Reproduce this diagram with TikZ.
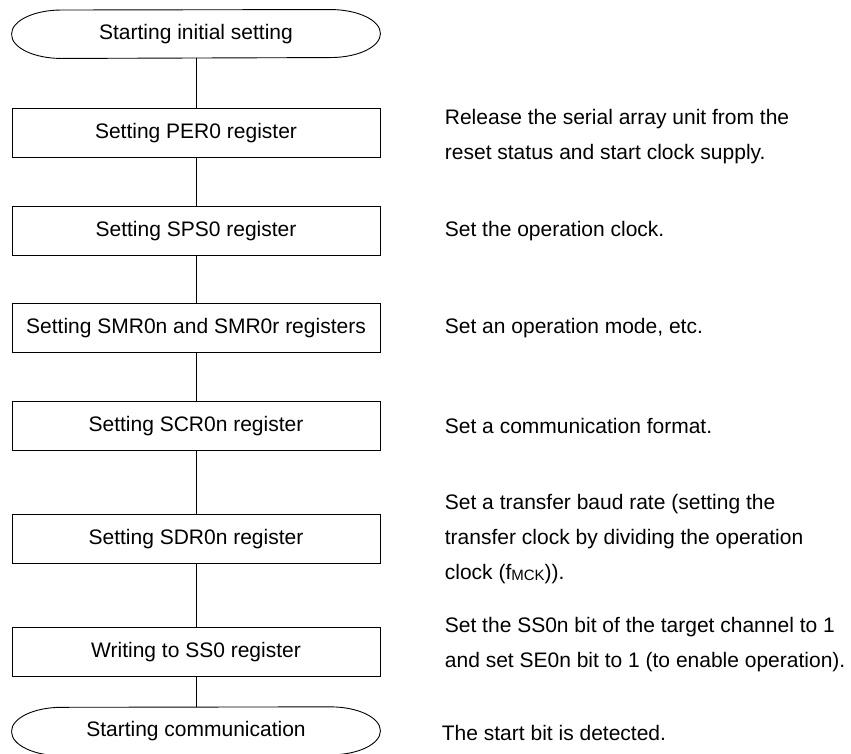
\documentclass[tikz,border=0pt]{standalone}
\usepackage{fontspec}
\setmainfont{Liberation Sans}
\usepackage{tikz}
\usetikzlibrary{positioning}
\newcommand{\termoutline}[1]{%
	\draw (#1.west) arc[start angle=180, end angle=90, x radius=50pt, y radius=24pt]
		-- ([xshift=-50pt]#1.north east) arc[start angle=90, end angle=-90, x radius=50pt, y radius=24pt]
		-- ([xshift=50pt]#1.south west) arc[start angle=270, end angle=180, x radius=50pt, y radius=24pt];
}
\tikzset{
	stepbox/.style={
		draw, rectangle, minimum width=368pt, minimum height=49pt,
		inner sep=0pt, text=black, font=\fontsize{21}{35}\selectfont
	},
	terminal/.style={
		rectangle, minimum width=368pt, minimum height=48pt,
		inner sep=0pt, text=black, font=\fontsize{21}{35}\selectfont
	},
	note/.style={
		align=left, inner sep=0pt, text=black,
		font=\fontsize{21}{35}\selectfont
	},
	flow_line/.style={line width=0.9pt}
}

\begin{document}
\begin{tikzpicture}[x=1pt,y=1pt,line width=0.9pt]
				\useasboundingbox (0,0) rectangle (851,-753);
				\node[terminal] (start) at (196,-34) {Starting initial setting};
				\node[stepbox] (per) [below=50pt of start] {Setting PER0 register};
				\node[stepbox] (sps) [below=48pt of per] {Setting SPS0 register};
				\node[stepbox] (smr) [below=47pt of sps] {Setting SMR0n and SMR0r registers};
				\node[stepbox] (scr) [below=48pt of smr] {Setting SCR0n register};
				\node[stepbox] (sdr) [below=63pt of scr] {Setting SDR0n register};
				\node[stepbox] (ss)  [below=63pt of sdr] {Writing to SS0 register};
				\node[terminal] (stop) [below=30pt of ss] {Starting communication};
				\termoutline{start}
				\termoutline{stop}
				% notes beside the steps
				\node[note] (per_note) [right=64pt of per, yshift=-3pt] {Release the serial array unit from the\\reset status and start clock supply.};
				\node[note] (sps_note) [right=64pt of sps] {Set the operation clock.};
				\node[note] (smr_note) [right=64pt of smr] {Set an operation mode, etc.};
				\node[note] (scr_note) [right=64pt of scr] {Set a communication format.};
				\node[note] (sdr_note) [right=64pt of sdr] {Set a transfer baud rate (setting the\\transfer clock by dividing the operation\\clock (f\raisebox{-1pt}{\fontsize{15}{15}\selectfont MCK})).};
				\node[note] (ss_note) [right=64pt of ss, yshift=7.5pt] {Set the SS0n bit of the target channel to 1\\and set SE0n bit to 1 (to enable operation).};
				\node[note] (stop_note) [right=61pt of stop, yshift=-2pt] {The start bit is detected.};
				\draw[flow_line] (start) -- (per);
				\draw[flow_line] (per) -- (sps);
				\draw[flow_line] (sps) -- (smr);
				\draw[flow_line] (smr) -- (scr);
				\draw[flow_line] (scr) -- (sdr);
				\draw[flow_line] (sdr) -- (ss);
				\draw[flow_line] (ss) -- (stop);
			\end{tikzpicture}
\end{document}
